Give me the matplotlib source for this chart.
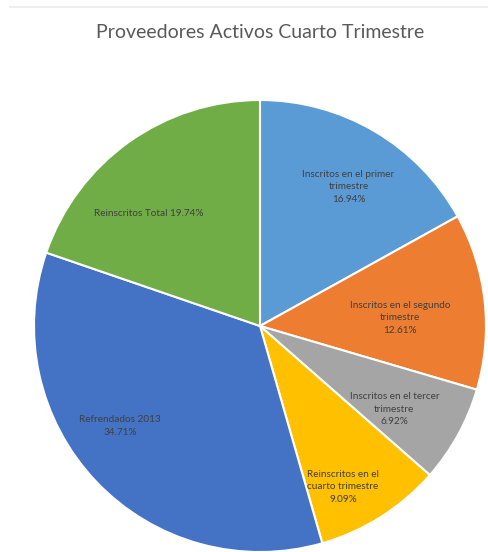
import matplotlib
matplotlib.use("Agg")
import matplotlib.pyplot as plt
import numpy as np
from matplotlib.lines import Line2D

title = "Proveedores Activos Cuarto Trimestre"
categories = [
    "Inscritos en el primer\ntrimestre",
    "Inscritos en el segundo\ntrimestre",
    "Inscritos en el tercer\ntrimestre",
    "Reinscritos en el\ncuarto trimestre",
    "Refrendados 2013",
    "Reinscritos Total",
]
values = [16.94, 12.61, 6.92, 9.09, 34.71, 19.74]
label_sep = ["\n", "\n", "\n", "\n", "\n", " "]

colors = ["#5B9BD5", "#ED7D31", "#A5A5A5", "#FFC000", "#4472C4", "#70AD47"]
label_radius = [0.73, 0.62, 0.70, 0.80, 0.76, 0.70]
label_angle_shift = [2, 3, 3, 5, 8, -9]

plt.rcParams['font.family'] = ['Lato', 'DejaVu Sans']

W, H = 489, 552
fig = plt.figure(figsize=(W / 100, H / 100), dpi=100)
fig.patch.set_facecolor("white")

cx, cy, r = 260, 326, 226
ax = fig.add_axes([(cx - r) / W, (H - cy - r) / H, 2 * r / W, 2 * r / H])
ax.set_xlim(-1, 1)
ax.set_ylim(-1, 1)
ax.set_aspect("equal")
ax.axis("off")

wedges, _ = ax.pie(values, colors=colors, startangle=90, counterclock=False,
                   radius=1.0, wedgeprops=dict(edgecolor="white", linewidth=1.5))
ax.set_xlim(-1, 1)
ax.set_ylim(-1, 1)

for w, cat, v, sep, rr, sh in zip(wedges, categories, values, label_sep, label_radius, label_angle_shift):
    mid = (w.theta1 + w.theta2) / 2.0 - sh
    x = rr * np.cos(np.radians(mid))
    y = rr * np.sin(np.radians(mid))
    ax.text(x, y, f"{cat}{sep}{v:.2f}%", ha="center", va="center", multialignment="center",
            fontsize=7.2, color="#404040", linespacing=1.5)

fig.text(cx / W, 1 - 32 / H, title, ha="center", va="center", fontsize=14, color="#595959")
fig.add_artist(Line2D([10 / W, 1], [1 - 7 / H, 1 - 7 / H], color="#eeeeee", linewidth=1.5,
                      transform=fig.transFigure))

fig.savefig("out.png", dpi=100, facecolor="white")
